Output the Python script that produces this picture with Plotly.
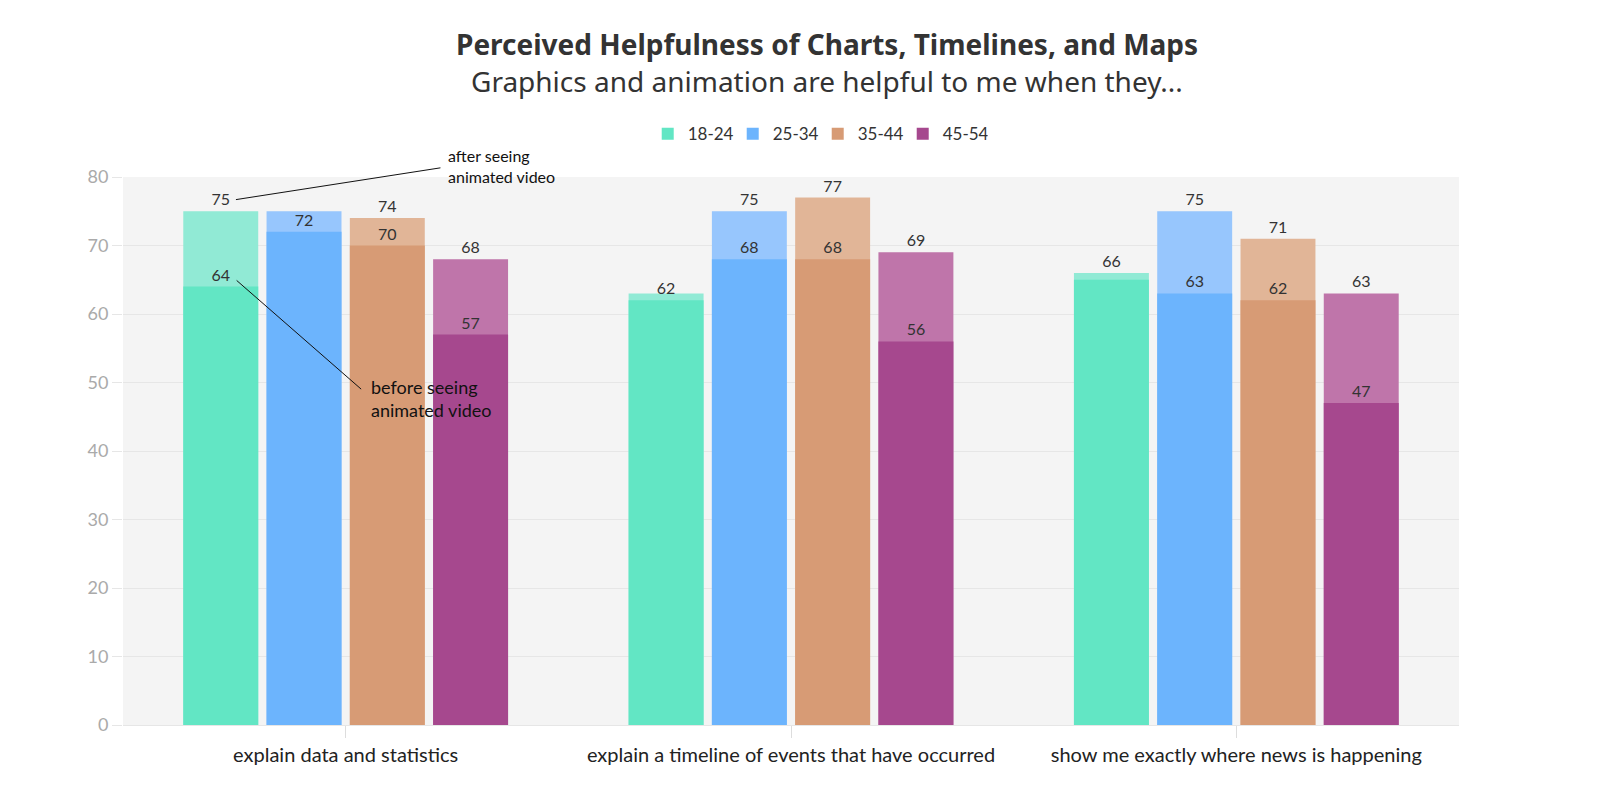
import plotly.graph_objects as go

categories = ["explain data and statistics",
              "explain a timeline of events that have occurred",
              "show me exactly where news is happening"]
age_groups = ["18-24", "25-34", "35-44", "45-54"]

# values before seeing the animated video, per age group (one per category)
before = {
    "18-24": [64, 62, 65],
    "25-34": [72, 68, 63],
    "35-44": [70, 68, 62],
    "45-54": [57, 56, 47],
}
# values after seeing the animated video
after = {
    "18-24": [75, 63, 66],
    "25-34": [75, 75, 75],
    "35-44": [74, 77, 71],
    "45-54": [68, 69, 63],
}
# labels as printed on the chart (overlapping ones are left out)
before_labels = {
    "18-24": ["64", "62", ""],
    "25-34": ["72", "68", "63"],
    "35-44": ["70", "68", "62"],
    "45-54": ["57", "56", "47"],
}
after_labels = {
    "18-24": ["75", "", "66"],
    "25-34": ["", "75", "75"],
    "35-44": ["74", "77", "71"],
    "45-54": ["68", "69", "63"],
}
y_ticks = [0, 10, 20, 30, 40, 50, 60, 70, 80]

dark_colors = {"18-24": "#62e6c4", "25-34": "#6cb4fd", "35-44": "#d79b75", "45-54": "#a6488e"}
light_colors = {"18-24": "#91ead5", "25-34": "#97c6fd", "35-44": "#e1b597", "45-54": "#bf75aa"}

FONT = "Lato"
TFONT = "Noto Sans"
fig = go.Figure()
for g in age_groups:
    fig.add_trace(go.Bar(
        x=categories, y=after[g], name=g, offsetgroup=g, showlegend=False,
        marker=dict(color=light_colors[g], line=dict(width=0)),
        text=after_labels[g], textposition="outside", cliponaxis=False,
        textfont=dict(family=FONT, size=16, color="#333"), hoverinfo="skip",
    ))
    fig.add_trace(go.Bar(
        x=categories, y=before[g], name=g, offsetgroup=g, legendgroup=g,
        marker=dict(color=dark_colors[g], line=dict(width=0)),
        text=before_labels[g], textposition="outside", cliponaxis=False,
        textfont=dict(family=FONT, size=16, color="#333"),
    ))

annotations = [
    dict(xref="paper", yref="paper", x=0.527, y=1.243, text="<b>Perceived Helpfulness of Charts, Timelines, and Maps</b>",
         showarrow=False, font=dict(family=TFONT, size=28, color="#333"), xanchor="center", yanchor="middle"),
    dict(xref="paper", yref="paper", x=0.527, y=1.176, text="Graphics and animation are helpful to me when they...",
         showarrow=False, font=dict(family=TFONT, size=28, color="#333"), xanchor="center", yanchor="middle"),
    # leader lines
    dict(xref="x", yref="y", x=-0.2464, y=76.7, ax=206, ay=-32, text="", showarrow=True,
         arrowhead=0, arrowwidth=1, arrowcolor="#111", standoff=0, startstandoff=0),
    dict(xref="x", yref="y", x=-0.2448, y=64.9, ax=126, ay=110, text="", showarrow=True,
         arrowhead=0, arrowwidth=1, arrowcolor="#111", standoff=0, startstandoff=0),
    dict(xref="paper", yref="paper", x=0.2418, y=1.060, text="after seeing<br>animated video", align="left",
         showarrow=False, font=dict(family=FONT, size=16, color="#111"), xanchor="left", yanchor="top"),
    dict(xref="paper", yref="paper", x=0.1844, y=0.640, text="before seeing<br>animated video", align="left",
         showarrow=False, font=dict(family=FONT, size=18, color="#111"), xanchor="left", yanchor="top"),
]

fig.update_layout(
    width=1584, height=782,
    margin=dict(l=115, r=133, t=169, b=65),
    paper_bgcolor="white", plot_bgcolor="#f4f4f4",
    barmode="group", bargap=0.252, bargroupgap=0.1,
    font=dict(family=FONT, color="#333"),
    legend=dict(orientation="h", x=0.52, y=1.078, xanchor="center", yanchor="middle",
                font=dict(family=FONT, size=17, color="#333"), itemsizing="constant",
                entrywidth=40, itemwidth=30),
    annotations=annotations,
    showlegend=True,
)
fig.update_yaxes(range=[0, 80], tickvals=y_ticks, gridcolor="#e6e6e6", gridwidth=1,
                 ticks="outside", ticklen=10, tickcolor="#e6e6e6",
                 tickfont=dict(family=FONT, size=18, color="#aaaaaa"),
                 zeroline=True, zerolinecolor="#e6e6e6", zerolinewidth=1, showline=False)
fig.update_xaxes(ticks="outside", ticklen=12, tickcolor="#dddddd",
                 tickfont=dict(family=FONT, size=20, color="#222"), showline=False)

fig.write_html("out.html")
